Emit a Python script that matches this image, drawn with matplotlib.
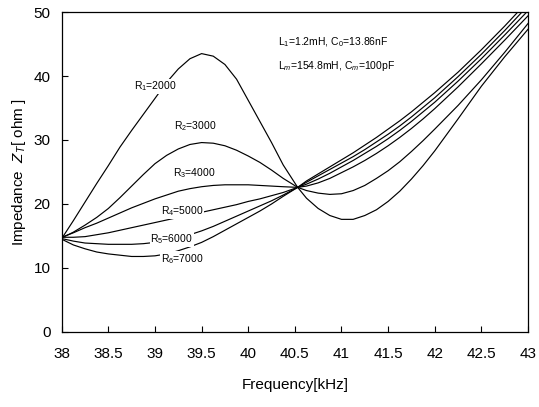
import matplotlib
matplotlib.use("Agg")
import matplotlib.pyplot as plt

plt.rcParams['font.family'] = ['Liberation Sans', 'DejaVu Sans']
plt.rcParams['mathtext.fontset'] = 'custom'
plt.rcParams['mathtext.rm'] = 'Liberation Sans'
plt.rcParams['mathtext.it'] = 'Liberation Sans:italic'

# frequency samples (kHz)
freq = [38.0, 38.125, 38.25, 38.375, 38.5, 38.625, 38.75, 38.875, 39.0, 39.125,
        39.25, 39.375, 39.5, 39.625, 39.75, 39.875, 40.0, 40.125, 40.25, 40.375,
        40.53, 40.625, 40.75, 40.875, 41.0, 41.125, 41.25, 41.375, 41.5, 41.625,
        41.75, 41.875, 42.0, 42.25, 42.5, 42.75, 43.0]

z_2000 = [14.6, 17.4, 20.3, 23.2, 26.0, 28.9, 31.5, 34.0, 36.5, 39.0,
          41.1, 42.7, 43.5, 43.1, 41.8, 39.5, 36.2, 32.9, 29.6, 26.1,
          22.6, 20.9, 19.3, 18.2, 17.6, 17.6, 18.2, 19.1, 20.4, 22.0,
          23.9, 26.0, 28.3, 33.3, 38.4, 43.0, 47.3]
z_3000 = [14.7, 15.6, 16.7, 17.9, 19.3, 21.0, 22.8, 24.6, 26.3, 27.6,
          28.6, 29.3, 29.6, 29.5, 29.1, 28.4, 27.5, 26.5, 25.3, 24.0,
          22.6, 22.1, 21.7, 21.5, 21.6, 22.1, 22.9, 24.0, 25.2, 26.6,
          28.2, 29.9, 31.7, 35.4, 39.4, 43.7, 48.2]
z_4000 = [14.8, 15.5, 16.3, 17.0, 17.8, 18.6, 19.4, 20.1, 20.8, 21.4,
          22.0, 22.4, 22.7, 22.9, 23.0, 23.0, 23.0, 22.9, 22.8, 22.7,
          22.6, 22.8, 23.3, 24.0, 24.9, 25.8, 26.8, 27.9, 29.1, 30.4,
          31.8, 33.3, 34.9, 38.3, 41.9, 45.6, 49.4]
z_5000 = [14.8, 14.8, 14.9, 15.2, 15.5, 15.9, 16.3, 16.7, 17.1, 17.5,
          17.9, 18.3, 18.7, 19.1, 19.5, 19.9, 20.4, 20.8, 21.3, 21.8,
          22.6, 23.1, 23.9, 24.8, 25.8, 26.8, 27.9, 29.0, 30.2, 31.5,
          32.9, 34.4, 35.9, 39.2, 42.7, 46.4, 50.2]
z_6000 = [14.6, 14.2, 13.9, 13.8, 13.7, 13.7, 13.7, 13.8, 14.0, 14.3,
          14.7, 15.2, 15.8, 16.5, 17.3, 18.1, 18.9, 19.7, 20.5, 21.4,
          22.6, 23.4, 24.4, 25.4, 26.4, 27.4, 28.5, 29.7, 30.9, 32.2,
          33.6, 35.1, 36.6, 39.9, 43.4, 47.1, 51.0]
z_7000 = [14.5, 13.6, 13.0, 12.5, 12.2, 12.0, 11.8, 11.8, 11.9, 12.2,
          12.7, 13.3, 14.0, 14.9, 15.9, 16.9, 17.9, 18.9, 20.0, 21.2,
          22.6, 23.6, 24.7, 25.8, 26.9, 28.0, 29.2, 30.4, 31.7, 33.0,
          34.4, 35.9, 37.4, 40.6, 44.1, 47.8, 51.7]

series = [z_2000, z_3000, z_4000, z_5000, z_6000, z_7000]
labels = [r'R$_1$=2000', r'R$_2$=3000', r'R$_3$=4000', r'R$_4$=5000',
          r'R$_5$=6000', r'R$_6$=7000']
label_pos = [(39.0, 38.4), (39.43, 32.2), (39.42, 24.8), (39.29, 18.9),
             (39.18, 14.5), (39.29, 11.4)]

xticks = [38, 38.5, 39, 39.5, 40, 40.5, 41, 41.5, 42, 42.5, 43]
xticklabels = ['38', '38.5', '39', '39.5', '40', '40.5', '41', '41.5', '42', '42.5', '43']
yticks = [0, 10, 20, 30, 40, 50]

fig = plt.figure(figsize=(5.39, 4.07), dpi=100)
ax = fig.add_axes([0.1145, 0.1843, 0.8651, 0.7862])

for z in series:
    ax.plot(freq, z, color='black', lw=0.85)

for lab, (x, y) in zip(labels, label_pos):
    ax.text(x, y, lab, fontsize=7.5, ha='center', va='center',
            bbox=dict(facecolor='white', edgecolor='none', pad=0.5))

ax.text(40.32, 45.3, r'L$_1$=1.2mH, C$_0$=13.86nF', fontsize=7.5, ha='left', va='center')
ax.text(40.32, 41.6, r'L$_m$=154.8mH, C$_m$=100pF', fontsize=7.5, ha='left', va='center')

ax.set_xlim(38, 43)
ax.set_ylim(0, 50)
ax.set_xticks(xticks)
ax.set_xticklabels(xticklabels)
ax.set_yticks(yticks)
ax.tick_params(direction='in', length=4, width=0.8, labelsize=11)
ax.tick_params(axis='x', pad=11)
ax.tick_params(axis='y', pad=8)
for s in ax.spines.values():
    s.set_linewidth(0.9)

ax.set_xlabel('Frequency[kHz]', fontsize=11, labelpad=12)
ax.set_ylabel(r'Impedance  $Z_T$[ ohm ]', fontsize=11, labelpad=4)

fig.savefig('out.png', dpi=100)
